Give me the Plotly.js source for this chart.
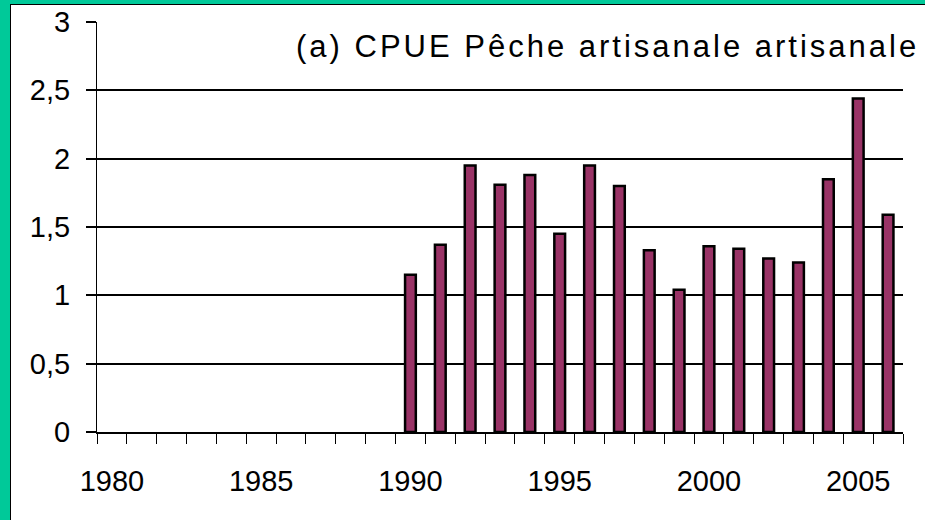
<!DOCTYPE html>
<html>
<head>
<meta charset="utf-8">
<script src="https://cdn.plot.ly/plotly-3.0.1.min.js"></script>
<style>
  html, body { margin: 0; padding: 0; background: #ffffff; }
  #wrap { position: relative; width: 925px; height: 520px; overflow: hidden; }
  #graph { position: absolute; left: 0; top: 0; width: 925px; height: 520px; }
  .edge { position: absolute; pointer-events: none; }
  #graph .annotation-text { letter-spacing: 3px; }
</style>
</head>
<body>
<div id="wrap">
  <div id="graph"></div>
  <!-- green frame on the left and top, with a thin black inner line -->
  <div class="edge" style="left:0;top:0;width:10px;height:520px;background:#00c999"></div>
  <div class="edge" style="left:0;top:0;width:925px;height:4px;background:#00c999"></div>
  <div class="edge" style="left:10px;top:4px;width:1px;height:516px;background:#000"></div>
  <div class="edge" style="left:10px;top:4px;width:915px;height:1px;background:#000"></div>
</div>
<script>
var years = [1990, 1991, 1992, 1993, 1994, 1995, 1996, 1997, 1998,
             1999, 2000, 2001, 2002, 2003, 2004, 2005, 2006];
var cpue = [1.15, 1.37, 1.95, 1.81, 1.88, 1.45, 1.95, 1.80, 1.33,
            1.04, 1.36, 1.34, 1.27, 1.24, 1.85, 2.44, 1.59];
var yearLabels = [1980, 1985, 1990, 1995, 2000, 2005];
var yTicks = [0, 0.5, 1, 1.5, 2, 2.5, 3];
var titleText = '(a) CPUE Pêche artisanale artisanale';

var trace = {
	x: years,
	y: cpue,
	type: 'bar',
	width: 0.36,
	marker: {
		color: '#993366',
		line: { color: '#000000', width: 2.5 }
	},
	hoverinfo: 'x+y'
};

var layout = {
	width: 925,
	height: 520,
	margin: { l: 97, r: 22, t: 22, b: 88 },
	paper_bgcolor: '#ffffff',
	plot_bgcolor: '#ffffff',
	separators: ', ',
	showlegend: false,
	font: { family: 'Liberation Sans, Arial, sans-serif', size: 29, color: '#000000' },
	xaxis: {
		range: [1979.5, 2006.5],
		tickmode: 'array',
		tickvals: yearLabels,
		ticktext: yearLabels.map(String),
		ticks: '',
		showgrid: false,
		zeroline: false,
		showline: true,
		linecolor: '#000000',
		linewidth: 2,
		ticklabelstandoff: 22,
		tickfont: { size: 29, color: '#000000' },
		minor: {
			tick0: 1979.5,
			dtick: 1,
			ticks: 'outside',
			ticklen: 10,
			tickwidth: 1,
			tickcolor: '#000000',
			showgrid: false
		}
	},
	yaxis: {
		range: [0, 3],
		tickmode: 'array',
		tickvals: yTicks,
		ticks: 'outside',
		ticklen: 10,
		tickwidth: 2,
		tickcolor: '#000000',
		showgrid: true,
		gridcolor: '#000000',
		gridwidth: 2,
		zeroline: false,
		showline: true,
		linecolor: '#000000',
		linewidth: 1,
		ticklabelstandoff: 10,
		tickfont: { size: 29, color: '#000000' }
	},
	annotations: [{
		text: titleText,
		xref: 'paper',
		yref: 'paper',
		x: 0.633,
		y: 0.94,
		xanchor: 'center',
		yanchor: 'middle',
		showarrow: false,
		font: { size: 31, color: '#000000' }
	}]
};

Plotly.newPlot('graph', [trace], layout, { displayModeBar: false, staticPlot: true });
</script>
</body>
</html>
